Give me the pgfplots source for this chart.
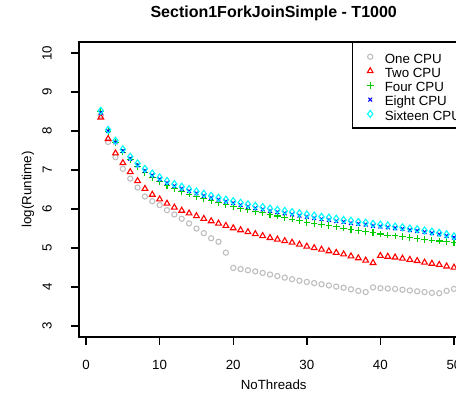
\documentclass[border=0pt]{standalone}
\usepackage{pgfplots}
\pgfplotsset{compat=1.18}
\usepackage{pgfplotstable}
\usepackage{fontspec}
\setmainfont{Liberation Sans}
\definecolor{rgray}{RGB}{190,190,190}
\definecolor{rred}{RGB}{255,0,0}
\definecolor{rgreen}{RGB}{0,205,0}
\definecolor{rblue}{RGB}{0,0,255}
\definecolor{rcyan}{RGB}{0,255,255}

\pgfplotstableread{
x one two four eight sixteen
2 8.40 8.35 8.50 8.47 8.52
3 7.72 7.80 7.99 8.00 8.03
4 7.33 7.43 7.70 7.71 7.75
5 7.03 7.18 7.46 7.49 7.53
6 6.78 6.95 7.26 7.29 7.34
7 6.55 6.72 7.09 7.12 7.17
8 6.32 6.52 6.94 6.98 7.03
9 6.20 6.37 6.81 6.86 6.91
10 6.10 6.25 6.70 6.76 6.81
11 5.97 6.14 6.60 6.67 6.72
12 5.86 6.04 6.52 6.59 6.64
13 5.75 5.96 6.45 6.52 6.57
14 5.63 5.89 6.38 6.46 6.51
15 5.50 5.82 6.32 6.40 6.45
16 5.38 5.75 6.26 6.34 6.39
17 5.25 5.69 6.21 6.29 6.34
18 5.16 5.63 6.16 6.24 6.29
19 4.88 5.57 6.11 6.19 6.24
20 4.49 5.51 6.06 6.15 6.20
21 4.46 5.46 6.02 6.10 6.16
22 4.43 5.41 5.98 6.06 6.12
23 4.40 5.36 5.94 6.02 6.08
24 4.36 5.31 5.90 5.99 6.05
25 4.32 5.26 5.86 5.95 6.01
26 4.28 5.22 5.82 5.92 5.98
27 4.24 5.18 5.78 5.89 5.95
28 4.20 5.14 5.74 5.86 5.92
29 4.16 5.09 5.70 5.83 5.89
30 4.13 5.04 5.66 5.80 5.86
31 4.10 5.00 5.63 5.77 5.83
32 4.07 4.96 5.60 5.74 5.80
33 4.04 4.92 5.57 5.72 5.78
34 4.01 4.88 5.54 5.69 5.75
35 3.98 4.84 5.51 5.67 5.72
36 3.94 4.79 5.48 5.64 5.70
37 3.90 4.74 5.45 5.62 5.67
38 3.87 4.68 5.42 5.60 5.65
39 3.99 4.62 5.39 5.57 5.62
40 3.97 4.80 5.36 5.55 5.60
41 3.96 4.78 5.33 5.53 5.58
42 3.95 4.76 5.31 5.51 5.55
43 3.93 4.73 5.29 5.49 5.53
44 3.91 4.70 5.27 5.46 5.50
45 3.89 4.67 5.25 5.44 5.48
46 3.87 4.63 5.22 5.41 5.45
47 3.85 4.60 5.20 5.38 5.42
48 3.84 4.57 5.18 5.35 5.39
49 3.90 4.53 5.16 5.31 5.35
50 3.95 4.50 5.13 5.27 5.30
}\datatable

\begin{document}
\begin{tikzpicture}[x=1pt,y=1pt]
\path[use as bounding box] (0,0) rectangle (456,394);
\clip (0,0) rectangle (456,394);
\begin{axis}[
  at={(79pt,57.1pt)}, anchor=south west,
  scale only axis, width=389.4pt, height=294.8pt,
  xmin=-0.96, xmax=51.96, ymin=2.72, ymax=10.28,
  xtick={0,10,20,30,40,50}, ytick={3,4,5,6,7,8,9,10},
  xtick pos=bottom, ytick pos=left,
  tick align=outside, major tick length=8pt,
  axis line style={line width=1.4pt},
  every tick/.style={line width=1.4pt, black},
  /pgf/number format/assume math mode=true,
  font=\fontsize{13.3}{16}\selectfont,
  xticklabel style={anchor=north, inner sep=0pt},
  xticklabel shift=15pt,
  yticklabel style={rotate=90, anchor=south, inner sep=0pt},
  yticklabel shift=19pt,
  title={\fontsize{16}{19}\selectfont\bfseries Section1ForkJoinSimple - T1000},
  title style={at={(axis description cs:0.5,1.0644)}, anchor=base, inner sep=0pt},
  xlabel={NoThreads},
  xlabel style={at={(axis description cs:0.5,-0.1798)}, anchor=base, inner sep=0pt},
  ylabel={log(Runtime)},
  ylabel style={at={(axis description cs:-0.122,0.5)}, anchor=base, inner sep=0pt},
  legend cell align=left,
  legend image code/.code={\path (-17pt,0) (14pt,0); \draw[#1] plot coordinates {(0pt,0pt)};},
  legend style={at={(axis description cs:0.701,1)}, anchor=north west,
    draw=black, line width=1.4pt, fill=white,
    inner xsep=0pt, inner ysep=6.8pt,
    font=\fontsize{13.3}{16}\selectfont,
    nodes={inner sep=0pt, text height=13.5pt, text depth=0.8pt},
    row sep=0pt, column sep=0pt,
    /tikz/every even column/.append style={column sep=0pt}},
]
\addplot[only marks, mark=o, mark size=2.6pt, color=rgray, line width=1.1pt] table[x=x,y=one] {\datatable};
\addlegendentry{One CPU}
\addplot[only marks, mark=triangle, mark size=3.3pt, color=rred, line width=1.1pt] table[x=x,y=two] {\datatable};
\addlegendentry{Two CPU}
\addplot[only marks, mark=+, mark size=3.3pt, color=rgreen, line width=1.1pt] table[x=x,y=four] {\datatable};
\addlegendentry{Four CPU}
\addplot[only marks, mark=x, mark size=2.7pt, color=rblue, line width=1.1pt] table[x=x,y=eight] {\datatable};
\addlegendentry{Eight CPU}
\addplot[only marks, mark=diamond, mark size=3.5pt, color=rcyan, line width=1.1pt] table[x=x,y=sixteen] {\datatable};
\addlegendentry{Sixteen CPU}
\end{axis}
\end{tikzpicture}
\end{document}
